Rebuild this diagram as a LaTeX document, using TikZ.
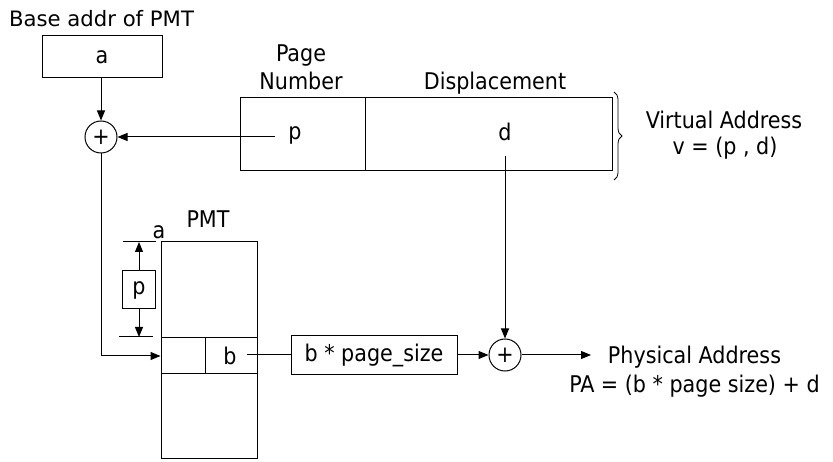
\documentclass[tikz,border=0pt]{standalone}
\usepackage{fontspec}
\setmainfont{DejaVu Sans Condensed}
\newfontfamily\widefont{DejaVu Sans}
\usetikzlibrary{arrows.meta,decorations.pathreplacing}
\begin{document}
\begin{tikzpicture}[x=1pt,y=-1pt,
  lbl/.style={font=\fontsize{23}{27}\selectfont, inner sep=0pt},
  box/.style={draw, line width=1pt, inner sep=0pt, font=\fontsize{23}{27}\selectfont},
  adder/.style={draw, circle, line width=1pt, minimum size=32pt, inner sep=0pt, font=\fontsize{23}{27}\selectfont},
  con/.style={line width=1pt},
  arr/.style={line width=1pt, -{Triangle[length=10pt,width=8pt]}}
]
\useasboundingbox (0,0) rectangle (833,462);
% base address
\node[lbl, anchor=base, font=\widefont\fontsize{21.2}{25}\selectfont] (basetxt) at (101.5,27) {Base addr of PMT};
\node[box, minimum width=120pt, minimum height=42pt] (abox) at (102,57) {a};
\node[adder] (add1) at (101,137) {+};
\draw[arr] (abox.south -| add1) -- (add1.north);
% virtual address
\node[lbl, anchor=base] (pg1) at (301,62) {Page};
\node[lbl, anchor=base] (pg2) at (301,90) {Number};
\node[lbl, anchor=base] (disp) at (495,90) {Displacement};
\node[box, minimum width=125pt, minimum height=73pt] (pcell) at (302.5,134.5) {};
\node[box, minimum width=247pt, minimum height=73pt] (dcell) at (488.5,134.5) {};
\node[lbl, anchor=base] (ptxt) at (295,140) {p};
\node[lbl, anchor=base] (dtxt) at (505,141) {d};
\coordinate (pout) at (275,137);
\draw[arr] (pout) -- (add1);
\draw[line width=0.8pt, decorate, decoration={brace, amplitude=8pt}] (614,92) -- (614,180);
\node[lbl, anchor=base] (va1) at (724,129) {Virtual Address};
\node[lbl, anchor=base] (va2) at (725,155) {v = (p , d)};
% PMT
\node[lbl, anchor=base] (pmtlbl) at (208,228) {PMT};
\node[lbl, anchor=base] (alabel) at (159,239) {a};
\node[box, minimum width=96pt, minimum height=216pt] (pmt) at (209,350) {};
\node[box, minimum width=44pt, minimum height=36pt] (rowl) at (183,356) {};
\node[box, minimum width=52pt, minimum height=36pt] (rowr) at (231,356) {};
\node[lbl] (btxt) at (230,356) {b};
\draw[arr] (add1.south) |- (rowl.west);
% bracket with p
\coordinate (tl1) at (123,242);
\coordinate (tl2) at (156,242);
\coordinate (bl1) at (119,337);
\coordinate (bl2) at (153,337);
\draw[con] (tl1) -- (tl2);
\draw[con] (bl1) -- (bl2);
\node[box, minimum width=33pt, minimum height=38pt] (pbox) at (139,290) {p};
\coordinate (ptop) at (139,242);
\coordinate (pbot) at (139,337);
\draw[arr] (pbox.north) -- (ptop);
\draw[arr] (pbox.south) -- (pbot);
% b * page_size and second adder
\node[box, minimum width=166pt, minimum height=39pt] (bsize) at (374,355) {b * page\_size};
\coordinate (bout) at (247,355);
\draw[con] (bout) -- (bsize.west);
\node[adder] (add2) at (505,355) {+};
\draw[arr] (bsize.east) -- (add2.west);
\coordinate (dout) at (505,156);
\draw[arr] (dout) -- (add2.north);
\coordinate (paout) at (591,355);
\draw[arr] (add2.east) -- (paout);
\node[lbl, anchor=base] (pa1) at (694.5,363) {Physical Address};
\node[lbl, anchor=base] (pa2) at (694.5,392) {PA = (b * page size) + d};
\end{tikzpicture}
\end{document}
